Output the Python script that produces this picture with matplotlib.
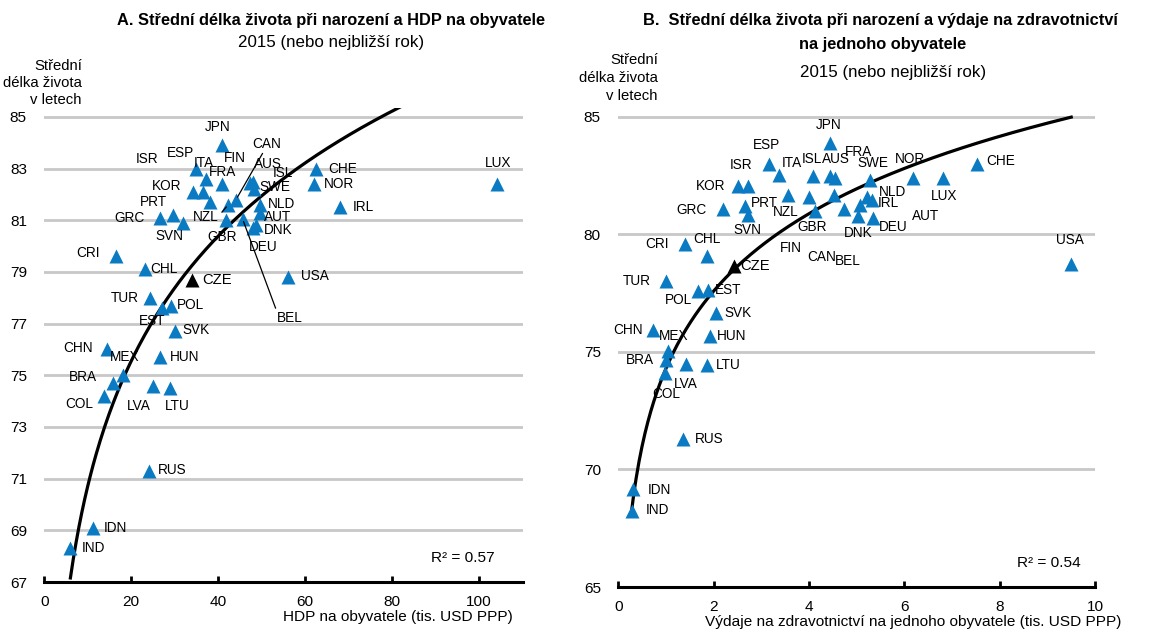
import matplotlib.pyplot as plt
import numpy as np
from matplotlib import font_manager

# narrow Arial look-alike if it is installed, plain Liberation Sans otherwise
fonts = {f.name for f in font_manager.fontManager.ttflist}
if 'Liberation Sans Narrow' in fonts:
    plt.rcParams['font.family'] = ['Liberation Sans Narrow', 'DejaVu Sans']
    k = 1.0
else:
    plt.rcParams['font.family'] = ['Liberation Sans', 'DejaVu Sans']
    k = 0.85

BLUE = '#0a7bc2'
GRID = '#c8c8c8'

# panel A: GDP per capita (thousand USD PPP) vs life expectancy
codes_a = ['JPN', 'ESP', 'ITA', 'FRA', 'KOR', 'ISR', 'FIN', 'NZL', 'CAN', 'AUS',
           'ISL', 'SWE', 'CHE', 'NOR', 'IRL', 'LUX', 'GRC', 'PRT', 'SVN', 'GBR',
           'BEL', 'NLD', 'AUT', 'DNK', 'DEU', 'USA', 'CRI', 'CHL', 'CZE', 'TUR',
           'POL', 'EST', 'SVK', 'CHN', 'MEX', 'HUN', 'BRA', 'LVA', 'LTU', 'COL',
           'RUS', 'IDN', 'IND']
gdp_a = [40.8, 34.8, 37.2, 40.9, 34.3, 36.6, 38.0, 42.3, 44.1, 47.9,
         47.3, 48.2, 62.5, 62.0, 67.9, 104.1, 26.5, 29.7, 32.0, 41.8,
         45.6, 49.6, 49.5, 48.7, 48.1, 56.1, 16.5, 23.2, 33.9, 24.2,
         29.1, 27.0, 30.1, 14.4, 18.0, 26.5, 15.9, 24.9, 28.9, 13.8,
         24.1, 11.2, 6.0]
life_a = [83.9, 83.0, 82.6, 82.4, 82.1, 82.1, 81.7, 81.6, 81.8, 82.5,
          82.45, 82.2, 83.0, 82.4, 81.5, 82.4, 81.1, 81.2, 80.9, 81.0,
          81.05, 81.6, 81.3, 80.8, 80.7, 78.8, 79.6, 79.1, 78.7, 78.0,
          77.7, 77.6, 76.7, 76.0, 75.0, 75.7, 74.7, 74.6, 74.5, 74.2,
          71.3, 69.1, 68.3]
# logarithmic trend y = a + b*ln(x) and its R²
trend_a = (54.66, 6.975)
r2_a = 0.57

# panel B: health spending per capita (thousand USD PPP) vs life expectancy
codes_b = ['JPN', 'ESP', 'ITA', 'KOR', 'ISR', 'ISL', 'AUS', 'FRA', 'SWE', 'NOR',
           'LUX', 'CHE', 'GRC', 'PRT', 'SVN', 'NZL', 'FIN', 'GBR', 'CAN', 'BEL',
           'AUT', 'DNK', 'NLD', 'IRL', 'DEU', 'USA', 'CRI', 'CHL', 'CZE', 'TUR',
           'POL', 'EST', 'SVK', 'CHN', 'HUN', 'MEX', 'BRA', 'LVA', 'LTU', 'COL',
           'RUS', 'IDN', 'IND']
health_b = [4.43, 3.17, 3.36, 2.52, 2.71, 4.09, 4.45, 4.55, 5.27, 6.19,
            6.81, 7.53, 2.19, 2.66, 2.71, 3.55, 3.99, 4.13, 4.53, 4.73,
            5.07, 5.03, 5.22, 5.33, 5.35, 9.50, 1.40, 1.87, 2.43, 1.00,
            1.68, 1.89, 2.05, 0.73, 1.92, 1.05, 1.00, 1.43, 1.87, 0.98,
            1.35, 0.30, 0.28]
life_b = [83.9, 83.0, 82.55, 82.05, 82.05, 82.5, 82.5, 82.4, 82.3, 82.4,
          82.4, 83.0, 81.1, 81.2, 80.85, 81.7, 81.6, 81.0, 81.7, 81.1,
          81.25, 80.8, 81.6, 81.45, 80.7, 78.75, 79.6, 79.1, 78.65, 78.0,
          77.6, 77.65, 76.65, 75.95, 75.7, 75.05, 74.65, 74.5, 74.45, 74.1,
          71.3, 69.15, 68.25]
trend_b = (74.3, 4.75)
r2_b = 0.54

# label offsets from the marker, in pixels (x right, y up)
off_a = {'JPN': (-4, 18), 'ESP': (-15, 16), 'ITA': (-2, 16), 'FRA': (0, 12),
         'KOR': (-27, 6), 'ISR': (-56, 33), 'FIN': (25, 44), 'NZL': (-22, -12),
         'CAN': (31, 56), 'AUS': (15, 18), 'ISL': (33, 10), 'SWE': (21, 2),
         'CHE': (27, 0), 'NOR': (25, 0), 'IRL': (24, 0), 'LUX': (1, 21),
         'GRC': (-30, 0), 'PRT': (-20, 13), 'SVN': (-14, -13), 'GBR': (-4, -17),
         'BEL': (47, -99), 'NLD': (22, 1), 'AUT': (18, -4), 'DNK': (22, -5),
         'DEU': (10, -19), 'USA': (27, 1), 'CRI': (-28, 3), 'CHL': (19, 0),
         'CZE': (25, 0), 'TUR': (-25, 0), 'POL': (20, 1), 'EST': (-10, -13),
         'SVK': (21, 1), 'CHN': (-29, 1), 'MEX': (2, 18), 'HUN': (25, 0),
         'BRA': (-31, 6), 'LVA': (-14, -20), 'LTU': (7, -18), 'COL': (-25, -8),
         'RUS': (23, 1), 'IDN': (22, 0), 'IND': (23, 0)}
# labels joined to their marker by a thin line (start point on the text box)
leaders_a = {'CAN': (0.4, 0.0), 'NZL': (1.0, 0.6), 'BEL': (0.0, 1.0)}

off_b = {'JPN': (-1, 18), 'ESP': (-3, 19), 'ITA': (13, 12), 'KOR': (-28, 0),
         'ISR': (-6, 21), 'ISL': (-1, 17), 'AUS': (5, 17), 'FRA': (23, 26),
         'SWE': (3, 17), 'NOR': (-3, 19), 'LUX': (1, -18), 'CHE': (23, 3),
         'GRC': (-31, -1), 'PRT': (19, 3), 'SVN': (0, -15), 'NZL': (-2, -17),
         'FIN': (-18, -51), 'GBR': (-3, -16), 'CAN': (-13, -62), 'BEL': (4, -52),
         'AUT': (66, -11), 'DNK': (0, -17), 'NLD': (25, 5), 'IRL': (16, -3),
         'DEU': (20, -9), 'USA': (-1, 24), 'CRI': (-28, 0), 'CHL': (-1, 17),
         'CZE': (21, 0), 'TUR': (-29, 0), 'POL': (-20, -9), 'EST': (20, 0),
         'SVK': (22, 0), 'CHN': (-25, 0), 'HUN': (22, 0), 'MEX': (5, 15),
         'BRA': (-26, 0), 'LVA': (-1, -20), 'LTU': (21, 0), 'COL': (1, -21),
         'RUS': (27, 0), 'IDN': (27, -1), 'IND': (26, 1)}


def panel(ax, codes, xs, ys, trend, offsets, leaders, r2, r2_pos):
    xs = np.array(xs)
    ys = np.array(ys)
    cze = np.array([c == 'CZE' for c in codes])

    # trend curve over the range of the data, clipped at the plot top
    a, b = trend
    xx = np.linspace(xs.min(), xs.max(), 300)
    ax.plot(xx, a + b * np.log(xx), color='black', lw=2.3, zorder=3)

    ax.plot(xs[~cze], ys[~cze], ls='none', marker='^', ms=9.5, color=BLUE,
            mec='none', zorder=4)
    ax.plot(xs[cze], ys[cze], ls='none', marker='^', ms=9.5, color='black',
            mec='none', zorder=4)

    for c, x, y in zip(codes, xs, ys):
        dx, dy = offsets[c]
        size = 12.5 * k if c == 'CZE' else 11.5 * k
        if c in leaders:
            ax.annotate(c, (x, y), xytext=(dx, dy), textcoords='offset pixels',
                        ha='center', va='center', fontsize=size, zorder=5,
                        arrowprops=dict(arrowstyle='-', lw=0.9, color='black',
                                        relpos=leaders[c], shrinkA=0, shrinkB=2))
        else:
            ax.annotate(c, (x, y), xytext=(dx, dy), textcoords='offset pixels',
                        ha='center', va='center', fontsize=size, zorder=5)

    ax.text(r2_pos[0], r2_pos[1], 'R² = %.2f' % r2, transform=ax.transAxes,
            ha='center', va='center', fontsize=13 * k)

    for s in ['left', 'right', 'top']:
        ax.spines[s].set_visible(False)
    ax.spines['bottom'].set_linewidth(2.2)
    ax.yaxis.grid(True, color=GRID, lw=2)
    ax.set_axisbelow(True)
    ax.tick_params(axis='y', length=0, pad=12.5, labelsize=13 * k)
    ax.tick_params(axis='x', direction='in', length=4.5, width=2, pad=9,
                   labelsize=13 * k)


fig = plt.figure(figsize=(11.51, 6.32), dpi=100)

ax1 = fig.add_axes([0.0385, 0.0791, 0.4155, 0.7502])
ax1.set_xlim(0, 110)
ax1.set_ylim(67, 85.35)
ax1.set_xticks(range(0, 101, 20))
ax1.set_yticks(range(67, 86, 2))
panel(ax1, codes_a, gdp_a, life_a, trend_a, off_a, leaders_a, r2_a,
      (0.876, 0.05))

ax2 = fig.add_axes([0.5372, 0.0712, 0.4142, 0.7623])
ax2.set_xlim(0, 10)
ax2.set_ylim(65, 85.5)
ax2.set_xticks(range(0, 11, 2))
ax2.set_yticks(range(65, 86, 5))
panel(ax2, codes_b, health_b, life_b, trend_b, off_b, {}, r2_b,
      (0.9035, 0.05))

# titles
fig.text(331 / 1151, 1 - 20 / 632,
         'A. Střední délka života při narození a HDP na obyvatele',
         ha='center', va='center', fontsize=13.9 * k, fontweight='bold')
fig.text(331 / 1151, 1 - 42 / 632, '2015 (nebo nejbližší rok)',
         ha='center', va='center', fontsize=14.3 * k)
fig.text(880 / 1151, 1 - 20 / 632,
         'B.  Střední délka života při narození a výdaje na zdravotnictví',
         ha='center', va='center', fontsize=13.9 * k, fontweight='bold')
fig.text(883 / 1151, 1 - 45 / 632, 'na jednoho obyvatele',
         ha='center', va='center', fontsize=13.9 * k, fontweight='bold')
fig.text(893 / 1151, 1 - 73 / 632, '2015 (nebo nejbližší rok)',
         ha='center', va='center', fontsize=14.3 * k)

# axis captions
fig.text(82 / 1151, 1 - 83 / 632, 'Střední\ndélka života\nv letech',
         ha='right', va='center', multialignment='right', fontsize=12.6 * k,
         linespacing=1.25)
fig.text(658 / 1151, 1 - 78 / 632, 'Střední\ndélka života\nv letech',
         ha='right', va='center', multialignment='right', fontsize=12.6 * k,
         linespacing=1.35)
fig.text(513 / 1151, 1 - 617 / 632, 'HDP na obyvatele (tis. USD PPP)',
         ha='right', va='center', fontsize=13 * k)
fig.text(1121 / 1151, 1 - 622 / 632,
         'Výdaje na zdravotnictví na jednoho obyvatele (tis. USD PPP)',
         ha='right', va='center', fontsize=13 * k)

fig.savefig('out.png', dpi=100, facecolor='white')
